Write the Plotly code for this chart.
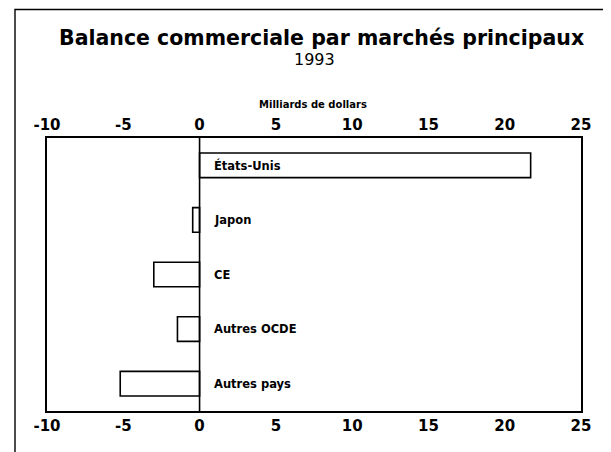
import plotly.graph_objects as go

categories = ["États-Unis", "Japon", "CE", "Autres OCDE", "Autres pays"]
values = [21.7, -0.45, -3.0, -1.45, -5.2]
tick_vals = [-10, -5, 0, 5, 10, 15, 20, 25]
tick_text = ["-10", "-5", "0", "5", "10", "15", "20", "25"]

# page body has an 8px margin, so the figure is 8px smaller than the window
OFF = 8
W, H = 611 - OFF, 452 - OFF
ml, mr, mt, mb = 39, 30, 130, 41
pw, ph = W - ml - mr, H - mt - mb

def px(x):  # page x -> paper
    return (x - OFF - ml) / pw

def py(y):  # page y -> paper
    return (H - mb - (y - OFF)) / ph

FONT = "DejaVu Sans, Verdana, sans-serif"

fig = go.Figure()
fig.add_trace(go.Bar(
    x=values, y=list(range(len(categories))), orientation="h", width=0.45,
    marker=dict(color="white", line=dict(color="black", width=1.6)),
    hoverinfo="skip", showlegend=False,
))
fig.add_trace(go.Scatter(x=[tick_vals[0], tick_vals[-1]], y=[0, 0], xaxis="x2",
                         mode="markers", marker=dict(opacity=0), showlegend=False,
                         hoverinfo="skip"))

axis_common = dict(range=[-10, 25], tickvals=tick_vals, ticktext=tick_text,
                   showgrid=False, zeroline=False, ticks="",
                   tickfont=dict(family=FONT, size=15, color="black", weight="bold"),
                   showline=True, linecolor="black", linewidth=2)
fig.update_layout(
    width=W, height=H,
    margin=dict(l=ml, r=mr, t=mt, b=mb, pad=0),
    paper_bgcolor="white", plot_bgcolor="white",
    xaxis=dict(**axis_common, side="bottom"),
    xaxis2=dict(**axis_common, side="top", overlaying="x", anchor="y"),
    yaxis=dict(range=[4.5, -0.5], showticklabels=False, showgrid=False,
               zeroline=False, ticks="", showline=True, linecolor="black",
               linewidth=2, mirror=True),
    showlegend=False,
)

fig.add_shape(type="line", xref="x", yref="paper", x0=0, x1=0, y0=0, y1=1,
              line=dict(color="black", width=1.6))
fig.add_shape(type="rect", xref="paper", yref="paper",
              x0=px(15), x1=px(605.5), y0=py(470), y1=py(9.5),
              line=dict(color="black", width=1.4), layer="below")

for i, c in enumerate(categories):
    fig.add_annotation(x=0, y=i, xref="x", yref="y", text=c, showarrow=False,
                       xanchor="left", xshift=12,
                       font=dict(family=FONT, size=11.5, color="black", weight="bold"))

fig.add_annotation(x=px(321.5), y=py(38.5), xref="paper", yref="paper",
                   text="Balance commerciale par marchés principaux",
                   showarrow=False, xanchor="center", yanchor="middle",
                   font=dict(family=FONT, size=20.5, color="black", weight="bold"))
fig.add_annotation(x=px(314), y=py(60), xref="paper", yref="paper",
                   text="1993", showarrow=False, xanchor="center", yanchor="middle",
                   font=dict(family=FONT, size=16, color="black"))
fig.add_annotation(x=px(313), y=py(104), xref="paper", yref="paper",
                   text="Milliards de dollars", showarrow=False,
                   xanchor="center", yanchor="middle",
                   font=dict(family=FONT, size=10, color="black", weight="bold"))

fig.write_html("out.html")
